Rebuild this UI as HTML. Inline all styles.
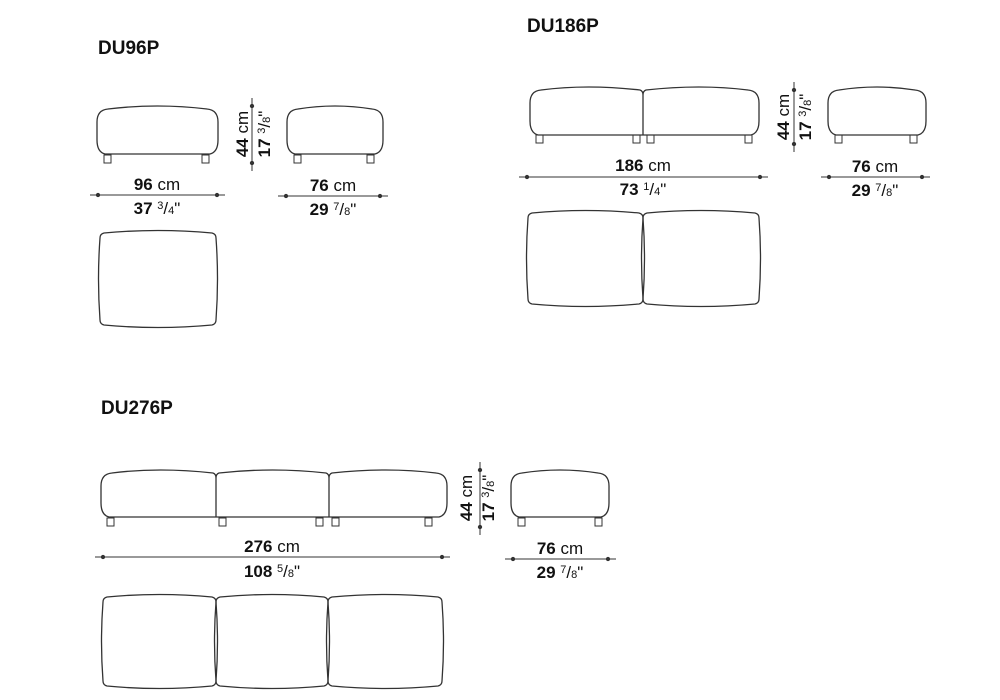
<!DOCTYPE html>
<html><head><meta charset="utf-8"><style>
html,body{margin:0;padding:0;background:#fff;width:1000px;height:700px;overflow:hidden}
svg{display:block}
text{font-family:"Liberation Sans",Arial,sans-serif;fill:#111}
.t{font-weight:bold;font-size:19px}
.b{font-weight:bold;font-size:17px}
.r{font-size:17px}
.s{font-size:11px}
</style></head><body>
<svg id="s" width="1000" height="700" viewBox="0 0 1000 700">
<g id="g" fill="none" stroke="#333" stroke-width="1.3"></g>
<text class="t" x="98" y="54">DU96P</text>
<text class="t" x="527" y="32">DU186P</text>
<text class="t" x="101" y="414">DU276P</text>

<text x="157" y="190" text-anchor="middle"><tspan class="b">96</tspan><tspan class="r"> cm</tspan></text>
<text x="157" y="214" text-anchor="middle"><tspan class="b">37 </tspan><tspan class="s" dy="-5">3</tspan><tspan class="r" dy="5">/</tspan><tspan class="s">4</tspan><tspan class="r">"</tspan></text>
<text x="333" y="191" text-anchor="middle"><tspan class="b">76</tspan><tspan class="r"> cm</tspan></text>
<text x="333" y="215" text-anchor="middle"><tspan class="b">29 </tspan><tspan class="s" dy="-5">7</tspan><tspan class="r" dy="5">/</tspan><tspan class="s">8</tspan><tspan class="r">"</tspan></text>
<text transform="translate(248,134) rotate(-90)" text-anchor="middle"><tspan class="b">44</tspan><tspan class="r"> cm</tspan></text>
<text transform="translate(270,134) rotate(-90)" text-anchor="middle"><tspan class="b">17 </tspan><tspan class="s" dy="-5">3</tspan><tspan class="r" dy="5">/</tspan><tspan class="s">8</tspan><tspan class="r">"</tspan></text>

<text x="643" y="171" text-anchor="middle"><tspan class="b">186</tspan><tspan class="r"> cm</tspan></text>
<text x="643" y="195" text-anchor="middle"><tspan class="b">73 </tspan><tspan class="s" dy="-5">1</tspan><tspan class="r" dy="5">/</tspan><tspan class="s">4</tspan><tspan class="r">"</tspan></text>
<text x="875" y="172" text-anchor="middle"><tspan class="b">76</tspan><tspan class="r"> cm</tspan></text>
<text x="875" y="196" text-anchor="middle"><tspan class="b">29 </tspan><tspan class="s" dy="-5">7</tspan><tspan class="r" dy="5">/</tspan><tspan class="s">8</tspan><tspan class="r">"</tspan></text>
<text transform="translate(789,117) rotate(-90)" text-anchor="middle"><tspan class="b">44</tspan><tspan class="r"> cm</tspan></text>
<text transform="translate(811,117) rotate(-90)" text-anchor="middle"><tspan class="b">17 </tspan><tspan class="s" dy="-5">3</tspan><tspan class="r" dy="5">/</tspan><tspan class="s">8</tspan><tspan class="r">"</tspan></text>

<text x="272" y="552" text-anchor="middle"><tspan class="b">276</tspan><tspan class="r"> cm</tspan></text>
<text x="272" y="577" text-anchor="middle"><tspan class="b">108 </tspan><tspan class="s" dy="-5">5</tspan><tspan class="r" dy="5">/</tspan><tspan class="s">8</tspan><tspan class="r">"</tspan></text>
<text x="560" y="554" text-anchor="middle"><tspan class="b">76</tspan><tspan class="r"> cm</tspan></text>
<text x="560" y="578" text-anchor="middle"><tspan class="b">29 </tspan><tspan class="s" dy="-5">7</tspan><tspan class="r" dy="5">/</tspan><tspan class="s">8</tspan><tspan class="r">"</tspan></text>
<text transform="translate(472,498) rotate(-90)" text-anchor="middle"><tspan class="b">44</tspan><tspan class="r"> cm</tspan></text>
<text transform="translate(494,498) rotate(-90)" text-anchor="middle"><tspan class="b">17 </tspan><tspan class="s" dy="-5">3</tspan><tspan class="r" dy="5">/</tspan><tspan class="s">8</tspan><tspan class="r">"</tspan></text>
</svg>
<script>
var g=document.getElementById('g'),NS='http://www.w3.org/2000/svg';
function el(t,a){var e=document.createElementNS(NS,t);for(var k in a)e.setAttribute(k,a[k]);g.appendChild(e);return e;}
function path(d){return el('path',{d:d});}
function frontGroup(xs,y0,y1){
 var n=xs.length-1,x0=xs[0],x1=xs[n];
 var d='M'+(x0+7)+','+y1+' Q'+(x0-1)+','+(y1-2)+' '+(x0-1)+','+(y1-14)+' L'+(x0-1)+','+(y0+14)+' Q'+(x0-1)+','+(y0+2)+' '+(x0+10)+','+(y0+1);
 for(var i=0;i<n;i++){
  var a=xs[i],b=xs[i+1],m=(a+b)/2;
  var end=(i==n-1)?(b-10):(b-3);
  d+=' Q'+m+','+(y0-5)+' '+end+','+(y0+1);
  if(i<n-1){d+=' Q'+b+','+(y0+2)+' '+b+','+(y0+6)+' Q'+b+','+(y0+2)+' '+(b+3)+','+(y0+1);}
 }
 d+=' Q'+(x1+1)+','+(y0+2)+' '+(x1+1)+','+(y0+14)+' L'+(x1+1)+','+(y1-14)+' Q'+(x1+1)+','+(y1-2)+' '+(x1-7)+','+y1+' Z';
 path(d);
 for(var i=1;i<n;i++) el('line',{x1:xs[i],y1:y0+6,x2:xs[i],y2:y1});
}
function leg(x,y){el('rect',{x:x,y:y,width:7,height:8,'stroke-width':1});}
function plan(x0,x1,y0,y1){
 var mx=(x0+x1)/2,my=(y0+y1)/2;
 path('M'+(x0+4)+','+y0+' Q'+mx+','+(y0-5)+' '+(x1-4)+','+y0+' Q'+x1+','+(y0+1)+' '+x1+','+(y0+5)+' Q'+(x1+3)+','+my+' '+x1+','+(y1-5)+' Q'+x1+','+(y1-1)+' '+(x1-4)+','+y1+' Q'+mx+','+(y1+5)+' '+(x0+4)+','+y1+' Q'+x0+','+(y1-1)+' '+x0+','+(y1-5)+' Q'+(x0-3)+','+my+' '+x0+','+(y0+5)+' Q'+x0+','+(y0+1)+' '+(x0+4)+','+y0+' Z');
}
function dimH(x0,x1,y){el('line',{x1:x0,y1:y,x2:x1,y2:y,'stroke-width':1});el('circle',{cx:x0+8,cy:y,r:1.5,fill:'#333'});el('circle',{cx:x1-8,cy:y,r:1.5,fill:'#333'});}
function dimV(x,y0,y1){el('line',{x1:x,y1:y0,x2:x,y2:y1,'stroke-width':1});el('circle',{cx:x,cy:y0+8,r:1.5,fill:'#333'});el('circle',{cx:x,cy:y1-8,r:1.5,fill:'#333'});}

frontGroup([98,217],108,154); leg(104,155); leg(202,155);
frontGroup([288,382],108,154); leg(294,155); leg(367,155);
dimV(252,98,171); dimH(90,225,195); dimH(278,388,196);
plan(100,216,233,325);

frontGroup([531,643,758],89,135); leg(536,135); leg(633,135); leg(647,135); leg(745,135);
frontGroup([829,925],89,135); leg(835,135); leg(910,135);
dimV(794,82,152); dimH(519,768,177); dimH(821,930,177);
plan(528,643,213,304); plan(643,759,213,304);

frontGroup([102,216,329,446],472,517); leg(107,518); leg(219,518); leg(316,518); leg(332,518); leg(425,518);
frontGroup([512,608],472,517); leg(518,518); leg(595,518);
dimV(480,462,535); dimH(95,450,557); dimH(505,616,559);
plan(103,216,597,686); plan(216,328,597,686); plan(328,442,597,686);
</script>
</body></html>
